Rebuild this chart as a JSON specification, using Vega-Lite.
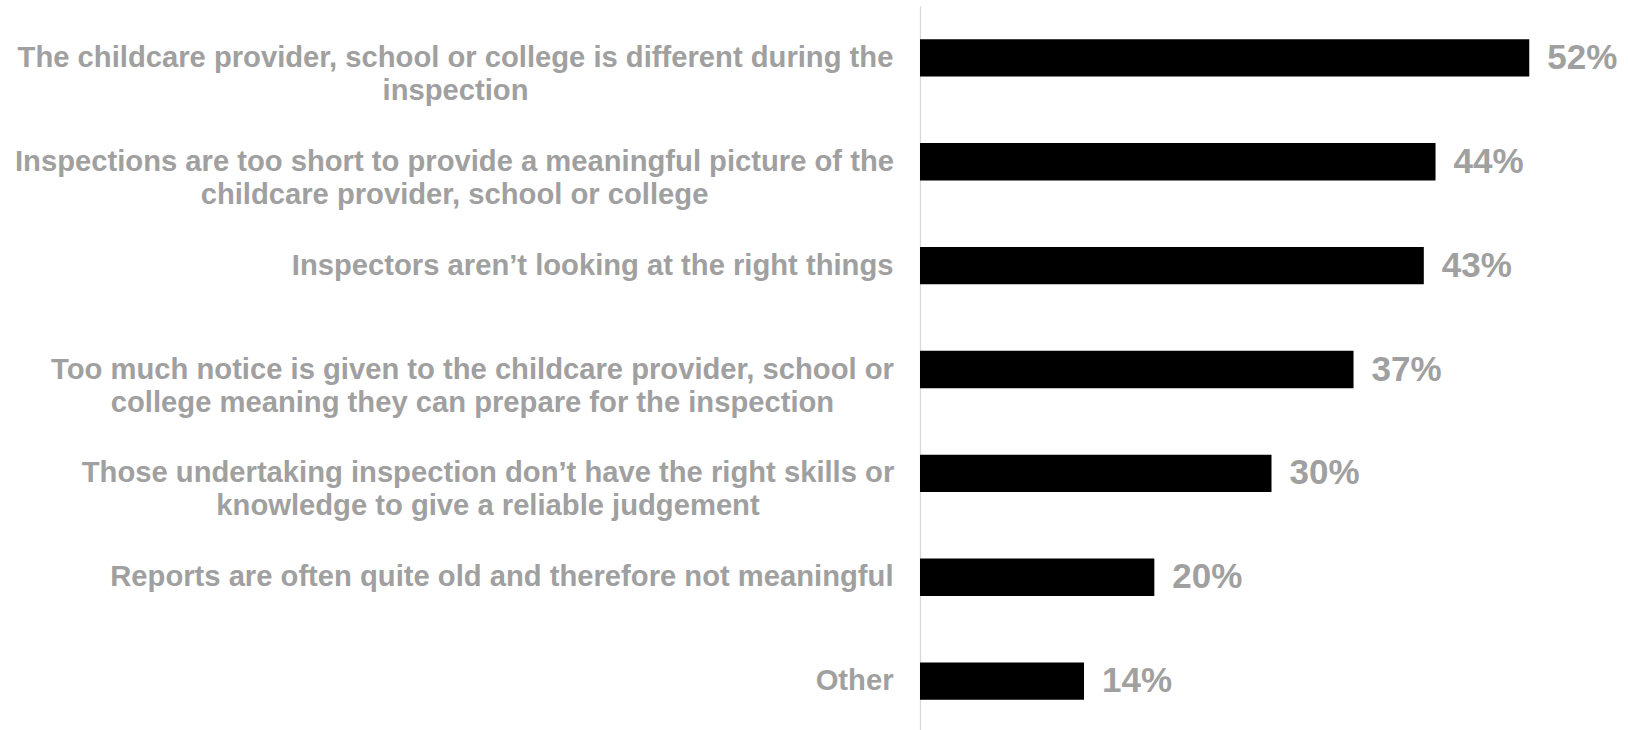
{
  "$schema": "https://vega.github.io/schema/vega-lite/v6.json",
  "autosize": "none",
  "width": 703,
  "height": 727,
  "padding": {"left": 920, "top": 6, "right": 0, "bottom": 0},
  "background": "white",
  "config": {"view": {"stroke": null}},
  "data": {
    "values": [
      {"reason": "The childcare provider, school or college is different during the|inspection", "pct": 0.52},
      {"reason": "Inspections are too short to provide a meaningful picture of the|childcare provider, school or college", "pct": 0.44},
      {"reason": "Inspectors aren’t looking at the right things", "pct": 0.43},
      {"reason": "Too much notice is given to the childcare provider, school or|college meaning they can prepare for the inspection", "pct": 0.37},
      {"reason": "Those undertaking inspection don’t have the right skills or|knowledge to give a reliable judgement", "pct": 0.30},
      {"reason": "Reports are often quite old and therefore not meaningful", "pct": 0.20},
      {"reason": "Other", "pct": 0.14}
    ]
  },
  "encoding": {
    "y": {
      "field": "reason",
      "type": "nominal",
      "sort": null,
      "scale": {"paddingInner": 0.64, "paddingOuter": 0.32},
      "axis": {
        "title": null,
        "ticks": false,
        "domainColor": "#d9d9d9",
        "domainWidth": 1.3,
        "labelExpr": "split(datum.label, '|')",
        "labelFont": "Liberation Sans",
        "labelFontWeight": "bold",
        "labelFontSize": 29.2,
        "labelColor": "#a0a0a0",
        "labelLineHeight": 33,
        "labelLimit": 0,
        "labelAlign": {"condition": {"test": "indexof(datum.value, '|') >= 0", "value": "center"}, "value": "right"},
        "labelPadding": {
          "condition": [
            {"test": "indexof(datum.value, 'The childcare') == 0", "value": 465},
            {"test": "indexof(datum.value, 'Inspections are') == 0", "value": 466},
            {"test": "indexof(datum.value, 'Too much') == 0", "value": 448},
            {"test": "indexof(datum.value, 'Those undertaking') == 0", "value": 432.5}
          ],
          "value": 27
        }
      }
    },
    "x": {
      "field": "pct",
      "type": "quantitative",
      "scale": {"domain": [0, 0.6]},
      "axis": null
    }
  },
  "layer": [
    {"mark": {"type": "bar", "color": "black"}},
    {
      "mark": {
        "type": "text",
        "align": "left",
        "baseline": "middle",
        "dx": 18,
        "font": "Liberation Sans",
        "fontWeight": "bold",
        "fontSize": 35,
        "color": "#a0a0a0"
      },
      "encoding": {"text": {"field": "pct", "type": "quantitative", "format": ".0%"}}
    }
  ]
}
